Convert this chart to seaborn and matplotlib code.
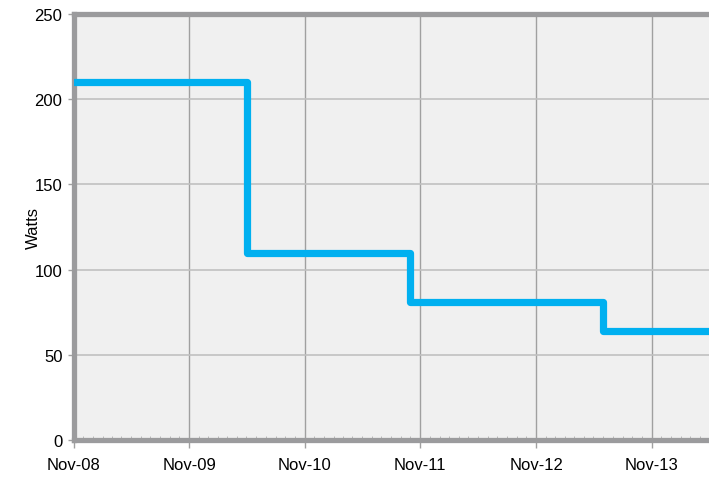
import matplotlib
matplotlib.use("Agg")
import matplotlib.pyplot as plt
import matplotlib.dates as mdates
import seaborn as sns
import pandas as pd
import numpy as np
from matplotlib import font_manager

# ---- data ----
dates = ["2008-11-01", "2010-05-04", "2011-09-30", "2013-05-30", "2014-05-01"]
watts = [210, 110, 81, 64, 64]
tick_dates = ["2008-11-01", "2009-11-01", "2010-11-01", "2011-11-01", "2012-11-01", "2013-11-01"]
tick_labels = ["Nov-08", "Nov-09", "Nov-10", "Nov-11", "Nov-12", "Nov-13"]
y_ticks = [0, 50, 100, 150, 200, 250]

df = pd.DataFrame({"date": pd.to_datetime(dates), "watts": watts})

sns.set_theme(style="white")
names = {f.name for f in font_manager.fontManager.ttflist}
fam = "Liberation Sans Narrow" if "Liberation Sans Narrow" in names else "Liberation Sans"
plt.rcParams["font.family"] = [fam, "DejaVu Sans"]

fig = plt.figure(figsize=(7.09, 4.81), dpi=100)
ax = fig.add_axes([0.1037, 0.0832, 0.8963, 0.8857])
ax.set_facecolor("#f0f0f0")
fig.patch.set_facecolor("white")

sns.lineplot(data=df, x="date", y="watts", ax=ax, color="#00b0f0",
             linewidth=5.2, drawstyle="steps-post", zorder=3)

ax.set_xlim(pd.Timestamp("2008-11-01"), pd.Timestamp("2014-05-01"))
ax.set_ylim(0, 250)
ax.set_yticks(y_ticks)
ax.set_yticklabels([str(v) for v in y_ticks], fontsize=12, color="black")
ax.set_xticks(pd.to_datetime(tick_dates))
ax.set_xticklabels(tick_labels, fontsize=12, color="black")
ax.xaxis.set_minor_locator(mdates.MonthLocator())

ax.grid(axis="y", color="#c0c0c0", linewidth=1.2, zorder=1)
ax.grid(axis="x", color="#a0a0a0", linewidth=1.0, zorder=1)
ax.set_axisbelow(True)

ax.tick_params(axis="y", which="major", length=4, width=1, color="#a0a0a0",
               direction="out", pad=4, left=True)
ax.tick_params(axis="x", which="major", length=6, width=1, color="#a0a0a0",
               direction="out", pad=6, bottom=True)
ax.tick_params(axis="x", which="minor", length=3, width=0.6, color="#b0b0b0",
               direction="in", bottom=True)

for s in ["left", "bottom", "top"]:
    ax.spines[s].set_visible(True)
    ax.spines[s].set_color("#9b9b9d")
    ax.spines[s].set_linewidth(3.8)
ax.spines["right"].set_visible(False)

ax.set_xlabel("")
ax.set_ylabel("Watts", fontsize=12, color="black")
ax.yaxis.set_label_coords(-0.051, 0.5)

fig.savefig("out.png", dpi=100)
